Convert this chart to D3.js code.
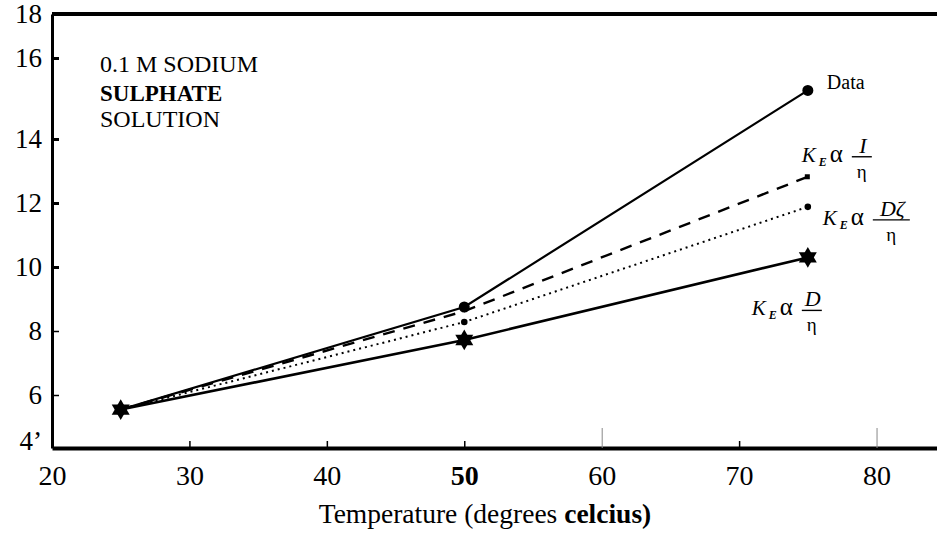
<!DOCTYPE html>
<html>
<head>
<meta charset="utf-8">
<script src="https://cdnjs.cloudflare.com/ajax/libs/d3/7.8.5/d3.min.js"></script>
<style>
    body { margin: 0; background: #fff; }
    svg { font-family: "Liberation Serif", "Times New Roman", serif; }
</style>
</head>
<body>
<div id="chart"></div>
<script>
// values
let temps = [25, 50, 75];
let dataSeries = [5.45, 8.75, 15.2];
let invEtaSeries = [5.45, 8.62, 12.82];
let dZetaSeries = [5.45, 8.28, 11.88];
let dEtaSeries = [5.45, 7.72, 10.3];

let xTicks = [20, 30, 40, 50, 60, 70, 80];
let yTicks = [4, 6, 8, 10, 12, 14, 16, 18];

let width = 937, height = 538;

let svg = d3.select("#chart").append("svg")
    .attr("width", width)
    .attr("height", height);

// scales (y axis of the scan is a bit stretched, so piecewise)
let x = d3.scaleLinear().domain([20, 84.4]).range([52, 937]);
let y = d3.scaleLinear().domain([4, 6, 14, 16, 18]).range([448, 395, 139, 58, 14]);

// top frame line
svg.append("line")
    .attr("x1", x(20)).attr("x2", x(84.4))
    .attr("y1", y(18)).attr("y2", y(18))
    .attr("stroke", "black")
    .attr("stroke-width", 4);

// x axis
let xAxis = svg.append("g")
    .attr("class", "axis axis--x")
    .attr("transform", "translate(0," + y(4) + ")")
    .call(d3.axisBottom(x).tickValues(xTicks).tickSize(-7).tickSizeOuter(0).tickPadding(17))
    .attr("font-family", "Liberation Serif")
    .attr("font-size", 28);

xAxis.select(".domain").attr("stroke-width", 4);
xAxis.selectAll(".tick line").attr("stroke-width", 1.5);
xAxis.selectAll(".tick")
    .filter(d => d === 60 || d === 80)
    .select("line")
    .attr("y2", -20)
    .attr("stroke", "#888")
    .attr("stroke-width", 1);
xAxis.selectAll(".tick text")
    .attr("fill", "black")
    .attr("font-weight", d => d === 50 ? "bold" : "normal");

// y axis
let yAxis = svg.append("g")
    .attr("class", "axis axis--y")
    .attr("transform", "translate(" + x(20) + ",0)")
    .call(d3.axisLeft(y).tickValues(yTicks).tickSize(-7).tickSizeOuter(0).tickPadding(10)
        .tickFormat(d => d === 4 ? "4\u2019" : d))
    .attr("font-family", "Liberation Serif")
    .attr("font-size", 27);

yAxis.select(".domain").attr("stroke-width", 3);
yAxis.selectAll(".tick line").attr("stroke-width", d => d >= 10 ? 3 : 1.5);
yAxis.selectAll(".tick").filter(d => d === 4 || d === 18).select("line").remove();
yAxis.selectAll(".tick text")
    .attr("fill", "black")
    .attr("dy", d => d === 4 ? "0.05em" : "0.32em");

// axis title
let title = svg.append("text")
    .attr("x", 485)
    .attr("y", 523)
    .attr("text-anchor", "middle")
    .style("font-size", "27.5px");
title.append("tspan").text("Temperature (degrees ");
title.append("tspan").attr("font-weight", "bold").text("celcius)");

// solution text, top left
svg.append("text").attr("x", 100).attr("y", 72)
    .style("font-size", "24px").text("0.1  M SODIUM");
svg.append("text").attr("x", 100).attr("y", 101)
    .style("font-size", "23px").attr("font-weight", "bold").text("SULPHATE");
svg.append("text").attr("x", 100).attr("y", 127)
    .style("font-size", "24px").text("SOLUTION");

// lines
function lineFor(values) {
    return d3.line()
        .x((d, i) => x(temps[i]))
        .y(d => y(d))(values);
}

svg.append("path")
    .attr("d", lineFor(dataSeries))
    .attr("fill", "none")
    .attr("stroke", "black")
    .attr("stroke-width", 2.2);

svg.append("path")
    .attr("d", lineFor(invEtaSeries))
    .attr("fill", "none")
    .attr("stroke", "black")
    .attr("stroke-width", 2.4)
    .style("stroke-dasharray", "12,9");

svg.append("path")
    .attr("d", lineFor(dZetaSeries))
    .attr("fill", "none")
    .attr("stroke", "black")
    .attr("stroke-width", 2)
    .style("stroke-dasharray", "2,4");

svg.append("path")
    .attr("d", lineFor(dEtaSeries))
    .attr("fill", "none")
    .attr("stroke", "black")
    .attr("stroke-width", 2.6);

// markers
svg.selectAll(".dataPt")
    .data(dataSeries)
    .enter().append("circle")
    .attr("class", "dataPt")
    .attr("cx", (d, i) => x(temps[i]))
    .attr("cy", d => y(d))
    .attr("r", 5.5)
    .attr("fill", "black");

svg.append("rect")
    .attr("x", x(75) - 3)
    .attr("y", y(invEtaSeries[2]) - 2.5)
    .attr("width", 5)
    .attr("height", 5)
    .attr("fill", "black");

svg.selectAll(".dzPt")
    .data(dZetaSeries.slice(1))
    .enter().append("circle")
    .attr("class", "dzPt")
    .attr("cx", (d, i) => x(temps[i + 1]))
    .attr("cy", d => y(d))
    .attr("r", 3.3)
    .attr("fill", "black");

// six pointed stars = two triangles
let tri = d3.symbol().type(d3.symbolTriangle).size(140);
[0, 180].forEach(function (rot) {
    svg.selectAll(".star" + rot)
        .data(dEtaSeries)
        .enter().append("path")
        .attr("d", tri)
        .attr("transform", (d, i) => "translate(" + x(temps[i]) + "," + y(d) + ") rotate(" + rot + ")")
        .attr("fill", "black");
});

// labels
svg.append("text")
    .attr("x", x(75) + 19)
    .attr("y", y(dataSeries[2]) - 1)
    .style("font-size", "20px")
    .text("Data");

function mathLabel(x0, base, num, w) {
    let g = svg.append("g").attr("transform", "translate(" + x0 + "," + base + ")");
    g.append("text").attr("x", 0).attr("y", 0)
        .style("font-size", "21px").style("font-style", "italic").text("K");
    g.append("text").attr("x", 17).attr("y", 4)
        .style("font-size", "12px").style("font-style", "italic").attr("font-weight", "bold").text("E");
    g.append("text").attr("x", 28).attr("y", 0)
        .style("font-size", "25px").text("\u03b1");
    g.append("line")
        .attr("x1", 50).attr("x2", 50 + w)
        .attr("y1", -5).attr("y2", -5)
        .attr("stroke", "black").attr("stroke-width", 1.4);
    g.append("text").attr("x", 50 + w / 2 + 1).attr("y", -9)
        .attr("text-anchor", "middle")
        .style("font-size", "22px").style("font-style", "italic").text(num);
    g.append("text").attr("x", 50 + w / 2).attr("y", 16)
        .attr("text-anchor", "middle")
        .style("font-size", "19px").text("\u03b7");
}

mathLabel(x(75) - 6, y(invEtaSeries[2]) - 15, "I", 20);
mathLabel(x(75) + 15, y(dZetaSeries[2]) + 18, "D\u03b6", 37);
mathLabel(x(75) - 56, y(dEtaSeries[2]) + 58, "D", 20);
</script>
</body>
</html>
